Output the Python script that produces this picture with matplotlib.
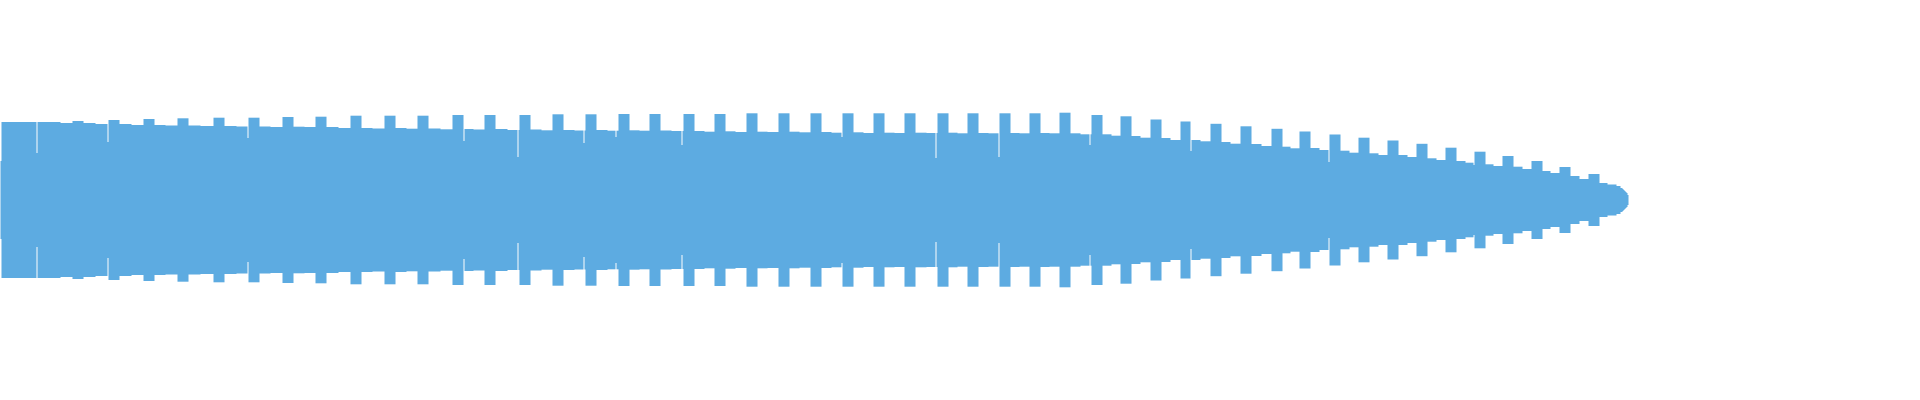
import numpy as np
import matplotlib
matplotlib.use("Agg")
import matplotlib.pyplot as plt

# Waveform envelope (pixel columns, amplitude in px from centre)
beat_x = [1, 37, 72, 108, 143, 177, 213, 248, 282, 315, 350, 384, 417, 452, 484,
          519, 552, 585, 618, 649, 683, 714, 746, 778, 810, 842, 873, 904, 937,
          967, 999, 1029, 1059, 1091, 1120, 1150, 1180, 1210, 1240, 1271, 1299,
          1329, 1358, 1387, 1416, 1445, 1474, 1502, 1531, 1559, 1588, 1616]
peak_amp = [78, 78, 79, 80, 81, 81.7, 82.3, 82.3, 83, 83.3, 84.3, 84.3, 84.3, 85,
            85, 85, 85.7, 85.7, 86, 86, 86, 86, 86.7, 86.7, 86.7, 86.7, 86.7,
            86.7, 86.7, 86.7, 86.7, 86.7, 87.3, 85, 83.7, 80.5, 78.5, 76.2, 73.7,
            71.2, 68.5, 65.5, 62.3, 59.5, 56.2, 52.3, 48.3, 44, 39, 33, 26, 14]
plat_start = [78, 78, 77, 76, 75, 74.5, 74, 73.5, 73.3, 73, 72, 72, 71.5, 71, 71,
              70.5, 70, 70, 69.7, 69.5, 69, 68.7, 68.3, 68.3, 68, 67.7, 67.3,
              67.3, 67.3, 67, 67, 67, 66.7, 65.7, 64, 62, 60, 58, 56, 53.3, 52,
              49.3, 46.7, 45, 41.7, 39, 35.7, 33.3, 29, 24, 17, 11]
plat_end = [78, 77, 76, 75, 74.5, 74, 73.5, 73, 73, 72, 71.5, 71.3, 70.7, 70.5, 70,
            69.7, 69.5, 69.3, 69.3, 69, 68.3, 68, 68, 67.7, 67.3, 67, 67, 67,
            66.7, 66.7, 66.7, 66.7, 65.7, 64.3, 62.3, 60, 58.7, 56.3, 54, 51.7,
            50, 47.3, 45, 43, 40, 37.3, 34, 31, 27, 21, 15.5, 5]
end_x = 1628
# single columns where the envelope drops (gaps and the tapering tail)
dip_x = [0, 36, 107, 247, 463, 517, 583, 615, 681, 841, 935, 998, 1089, 1190,
         1328, 1473, 1620, 1621, 1622, 1623, 1624, 1625, 1626, 1627]
dip_amp = [39, 47, 58, 62, 59, 43, 57, 63, 55, 63, 42, 43, 55, 49, 38, 35,
           12, 12, 11, 10, 9, 8, 7, 5]

PEAK_W = 11
COLOR = "#5dabe1"

# per-column amplitude built from the read values
cols = np.arange(end_x)
amp = np.zeros(end_x)
bounds = list(beat_x) + [end_x]
for b in range(len(beat_x)):
    s, e = bounds[b], bounds[b + 1]
    pe = min(s + PEAK_W, e)
    amp[s:pe] = peak_amp[b]
    mid = pe + (e - pe) // 2
    amp[pe:mid] = plat_start[b]
    amp[mid:e] = plat_end[b]
for dx, da in zip(dip_x, dip_amp):
    amp[dx] = da

fig = plt.figure(figsize=(19.2, 4), dpi=100)
fig.patch.set_facecolor("white")
ax = fig.add_axes([0, 0, 1, 1])
xe = np.append(cols, end_x)
ae = np.append(amp, amp[-1])
ax.fill_between(xe, -ae + 0.5, ae + 0.5, step="post", color=COLOR,
                linewidth=0, antialiased=False)
ax.set_xlim(0, 1920)
ax.set_ylim(-200, 200)
ax.axis("off")
fig.savefig("out.png", dpi=100, facecolor="white")
